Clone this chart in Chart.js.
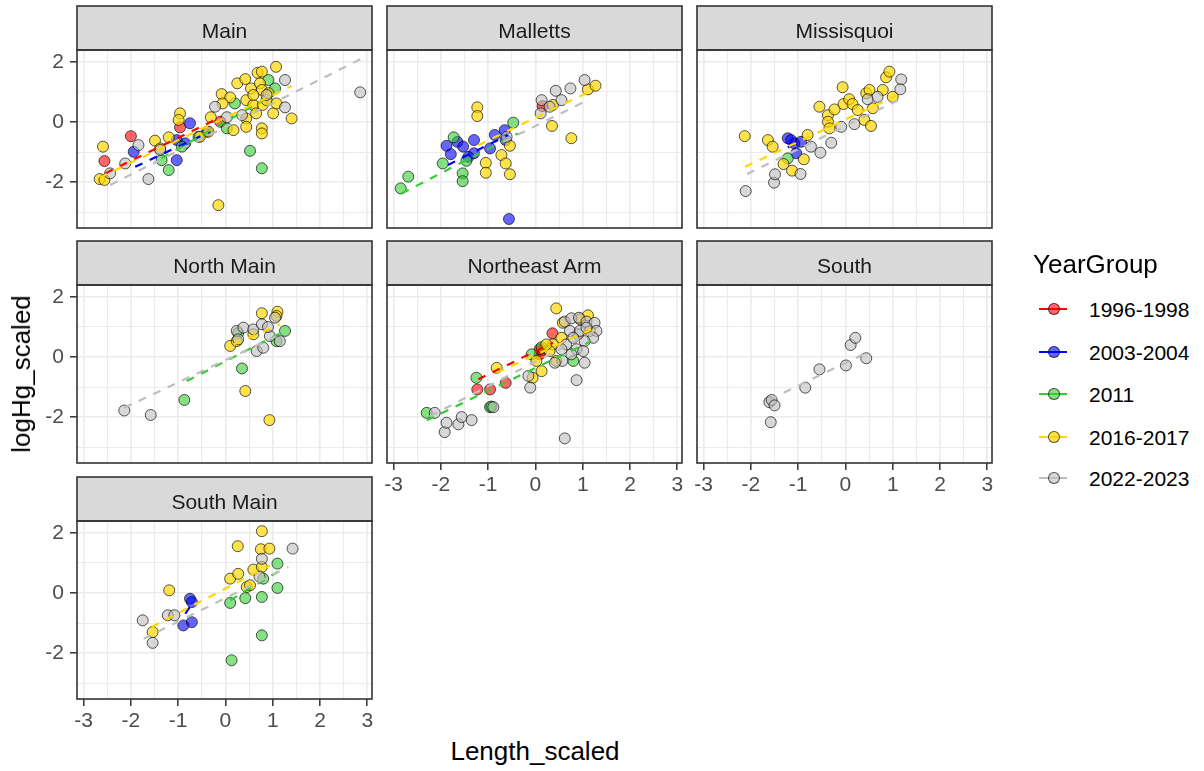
<!DOCTYPE html>
<html>
<head>
<meta charset="utf-8">
<script src="https://cdn.jsdelivr.net/npm/chart.js@4.4.0/dist/chart.umd.min.js"></script>
<style>
  body { margin: 0; background: #fff; font-family: 'Liberation Sans', Arial, sans-serif; }
  #wrap { position: relative; width: 1204px; height: 771px; overflow: hidden; }
  #wrap canvas { position: absolute; }
  .txt { position: absolute; white-space: nowrap; line-height: 1; transform: translate(-50%, -50%); }
  .key-line { position: absolute; height: 2px; width: 28px; }
  .key-dot { position: absolute; width: 12px; height: 12px; border-radius: 50%; box-sizing: border-box; border: 1px solid rgba(0,0,0,0.65); }
</style>
</head>
<body>
<div id="wrap"></div>
<script>
const yearGroups = ['1996-1998', '2003-2004', '2011', '2016-2017', '2022-2023'];
const panelNames = ['Main', 'Malletts', 'Missisquoi', 'North Main', 'Northeast Arm', 'South', 'South Main'];
const xTickLabels = [-3, -2, -1, 0, 1, 2, 3];
const xGrid = [-3, -2.5, -2, -1.5, -1, -0.5, 0, 0.5, 1, 1.5, 2, 2.5, 3];
const yTickLabels = [-2, 0, 2];
const yGrid = [-3, -2, -1, 0, 1, 2];

// points [Length_scaled, logHg_scaled], per panel and year group
const mainPts = {
  '1996-1998': [[-2.0,-0.47],[-2.56,-1.3],[-0.96,-0.18],[-0.11,0.01]],
  '2003-2004': [[-1.94,-0.99],[-0.75,-0.04],[-1.03,-1.27],[-1.03,-0.6],[-0.85,-0.71],[-0.39,-0.32]],
  '2011': [[-1.35,-1.27],[-1.2,-1.6],[0.52,-0.96],[0.77,-1.54],[0.91,1.4],[1.05,1.12],[0.2,0.62],[0.03,-0.21],[-0.57,-0.49],[-0.92,-0.82]],
  '2016-2017': [[-2.59,-0.82],[-2.66,-1.9],[-2.56,-1.93],[-1.49,-0.62],[-1.2,-0.51],[-0.96,0.29],[-0.99,0.07],[-0.54,-0.49],
    [-0.31,0.16],[-0.08,0.93],[0.1,0.82],[-0.06,0.62],[0.17,-0.27],[0.25,1.29],[0.42,1.43],[0.44,0.73],[0.44,0.12],[0.44,-0.16],
    [0.54,1.12],[0.59,0.57],[0.65,0.29],[0.68,1.64],[0.77,1.68],[0.73,1.29],[0.77,1.07],[0.77,-0.21],[0.77,-0.38],[0.79,0.57],
    [0.87,0.73],[1.01,0.29],[1.07,1.84],[1.08,0.62],[0.91,0.96],[1.4,0.12],[-0.15,-2.77],[-0.36,-0.32],[-1.38,-0.88],[0.59,0.9]],
  '2022-2023': [[-2.44,-1.71],[-2.12,-1.38],[-1.84,-0.77],[-1.63,-1.9],[-1.38,-0.93],[-0.22,0.51],[0.03,0.16],[0.35,0.23],
    [1.26,1.4],[1.26,0.49],[2.85,0.99],[0.87,0.9]]
};
const mallettsPts = {
  '1996-1998': [[0.15,0.53]],
  '2003-2004': [[-1.88,-0.79],[-1.79,-1.07],[-1.65,-0.66],[-1.53,-0.82],[-1.3,-0.6],[-1.3,-1.04],[-0.96,-0.88],[-0.86,-0.43],
    [-0.65,-0.27],[-0.63,-0.6],[-0.56,-3.23],[-1.42,-1.16]],
  '2011': [[-2.85,-2.21],[-2.69,-1.82],[-1.96,-1.38],[-1.54,-1.71],[-1.54,-1.97],[-1.46,-1.29],[-1.73,-0.51],[-0.47,-0.02]],
  '2016-2017': [[-1.23,0.49],[-1.23,0.2],[-1.05,-1.36],[-1.05,-1.69],[-0.72,-1.1],[-0.63,-1.38],[-0.54,-1.74],[-0.54,-0.79],
    [0.35,-0.13],[0.76,-0.54],[0.37,0.57],[1.11,1.09],[1.27,1.21]],
  '2022-2023': [[0.13,0.73],[0.43,1.04],[0.55,0.73],[0.74,1.12],[1.04,1.4],[0.11,0.29],[-0.61,-0.49],[0.3,0.51]]
};
const missisquoiPts = {
  '2003-2004': [[-1.22,-0.54],[-1.08,-0.71],[-1.04,-1.04],[-0.94,-0.66],[-1.15,-0.6]],
  '2011': [[-1.22,-1.21]],
  '2016-2017': [[-2.13,-0.47],[-1.64,-0.6],[-1.54,-0.82],[-1.31,-1.4],[-1.13,-1.62],[-0.88,-1.24],[-0.8,-0.43],[-0.55,0.51],
    [-0.37,0.23],[-0.37,0.01],[-0.34,-0.21],[-0.23,0.42],[-0.06,1.16],[-0.04,0.6],[0.08,0.76],[0.15,0.6],[0.26,0.4],[0.44,0.96],
    [0.51,1.07],[0.58,0.46],[0.4,0.07],[0.54,-0.13],[0.79,1.07],[0.86,1.49],[0.93,1.68],[1.0,0.84]],
  '2022-2023': [[-2.11,-2.3],[-1.51,-2.02],[-1.49,-1.74],[-0.95,-1.73],[-0.73,-0.82],[-0.53,-1.02],[-0.3,-0.69],[-0.09,-0.16],
    [0.19,-0.07],[0.47,0.76],[0.68,0.84],[1.18,1.42],[1.16,1.09]]
};
const northMainPts = {
  '2011': [[-0.87,-1.43],[0.35,-0.38],[1.26,0.87],[1.08,0.53],[0.27,0.8]],
  '2016-2017': [[0.1,0.37],[0.42,-1.13],[0.93,-2.1],[0.77,1.46],[1.1,1.51],[1.08,1.37],[0.59,0.76],[0.24,0.53]],
  '2022-2023': [[-2.14,-1.78],[-1.58,-1.93],[0.24,0.87],[0.38,0.98],[0.66,0.2],[0.8,0.31],[0.94,0.7],[1.05,1.31],[1.15,0.53],
    [0.59,0.92],[0.77,1.09],[0.27,0.59],[0.9,1.0]]
};
const northeastArmPts = {
  '1996-1998': [[-1.23,-1.08],[-0.96,-1.08],[-0.63,-0.86],[0.36,0.79],[0.13,0.22],[0.09,0.09],[0.09,0.26]],
  '2011': [[-2.3,-1.86],[-1.25,-0.69],[-0.96,-1.67],[-0.93,-1.65],[-0.08,0.09],[0.13,0.33],[0.8,-0.13]],
  '2016-2017': [[-0.82,-0.36],[-0.06,-0.69],[0.13,-0.47],[0.44,1.62],[0.37,0.42],[0.44,-0.13],[0.58,1.14],[1.11,1.39],
    [0.94,1.26],[0.3,0.2],[0.55,0.64],[0.02,-0.13],[0.23,0.42],[1.15,0.87]],
  '2022-2023': [[-2.13,-1.86],[-1.92,-2.5],[-1.88,-2.19],[-1.63,-2.24],[-1.56,-2.0],[-1.35,-2.1],[-0.89,-1.67],[-0.11,-1.02],
    [-0.15,-0.63],[0.62,-2.71],[0.87,-0.77],[1.04,-0.19],[0.62,1.18],[0.76,1.29],[0.92,1.31],[1.08,1.18],[1.25,1.14],[1.29,0.87],
    [1.22,0.64],[1.04,0.53],[0.9,0.76],[0.73,0.87],[0.65,0.42],[0.87,0.26],[1.01,0.2],[0.76,0.09],[0.57,-0.13],[0.41,-0.19],
    [0.94,0.87],[0.55,0.26],[1.08,0.98],[0.8,0.64]]
};
const southPts = {
  '2022-2023': [[-1.61,-1.5],[-1.56,-1.43],[-1.5,-1.61],[-1.58,-2.17],[-0.85,-1.02],[-0.55,-0.41],[0.01,-0.28],[0.11,0.4],
    [0.21,0.64],[0.44,-0.04]]
};
const southMainPts = {
  '2003-2004': [[-0.89,-1.08],[-0.71,-0.97],[-0.75,-0.19],[-0.71,-0.3]],
  '2011': [[0.1,-0.33],[0.13,-2.24],[0.42,-0.17],[0.77,-0.13],[0.77,-1.41],[0.8,0.48],[1.1,0.98],[1.1,0.17]],
  '2016-2017': [[-1.19,0.09],[-1.54,-1.3],[0.1,0.48],[0.26,1.56],[0.27,0.64],[0.45,0.2],[0.59,0.78],[0.77,2.06],[0.75,1.46],
    [0.93,1.48],[0.77,0.87],[0.52,0.26]],
  '2022-2023': [[-1.75,-0.91],[-1.54,-1.66],[-1.22,-0.74],[-1.08,-0.74],[0.77,1.14],[1.42,1.48],[0.72,0.55]]
};

// dashed lm lines, [x1, y1, x2, y2]
const mainFits = {
  '1996-1998': [-2.54,-1.71,-0.08,0.18], '2003-2004': [-1.91,-1.49,-0.32,-0.32], '2011': [-1.35,-1.2,1.05,0.95],
  '2016-2017': [-2.66,-1.85,1.4,1.2], '2022-2023': [-2.44,-2.1,2.85,2.09]
};
const mallettsFits = {
  '2003-2004': [-1.85,-1.43,-0.58,-0.43], '2011': [-2.83,-2.38,-0.37,-0.38],
  '2016-2017': [-1.21,-0.77,1.22,1.07], '2022-2023': [-0.68,-0.66,1.04,0.68]
};
const missisquoiFits = {
  '2003-2004': [-1.22,-0.85,-0.94,-0.6], '2016-2017': [-2.12,-1.49,1.1,0.9], '2022-2023': [-2.08,-1.73,1.16,0.76]
};
const northMainFits = {
  '2011': [-0.82,-0.8,1.26,0.87], '2016-2017': [0.17,0.42,1.15,1.09], '2022-2023': [-2.14,-1.69,1.23,0.81]
};
const northeastArmFits = {
  '1996-1998': [-1.21,-0.74,0.37,0.48], '2011': [-2.3,-2.11,1.18,0.53],
  '2016-2017': [-0.82,-0.52,1.18,0.92], '2022-2023': [-2.23,-1.97,1.32,0.92]
};
const southFits = { '2022-2023': [-1.61,-1.42,0.44,0.14] };
const southMainFits = {
  '2003-2004': [-0.85,-0.69,-0.68,-0.3], '2011': [0.1,-0.24,1.1,0.7],
  '2016-2017': [-1.56,-1.13,0.94,0.92], '2022-2023': [-1.73,-1.52,1.33,0.87]
};

const panelPts = [mainPts, mallettsPts, missisquoiPts, northMainPts, northeastArmPts, southPts, southMainPts];
const panelFits = [mainFits, mallettsFits, missisquoiFits, northMainFits, northeastArmFits, southFits, southMainFits];

// look
const fillCol = ['rgba(255,0,0,0.6)', 'rgba(0,0,255,0.6)', 'rgba(50,205,50,0.6)', 'rgba(255,215,0,0.7)', 'rgba(190,190,190,0.6)'];
const lineCol = ['#FF0000', '#0000FF', '#32CD32', '#FFD700', '#BEBEBE'];
const FONT = "'Liberation Sans', Arial, sans-serif";
const COL_X = [77, 387, 697], ROW_Y = [50, 285, 521];
const PW = 295, PH = 178, STRIP_H = 44;

const wrap = document.getElementById('wrap');

function addText(str, x, y, size, color, extra) {
  const d = document.createElement('div');
  d.className = 'txt';
  d.textContent = str;
  d.style.left = x + 'px';
  d.style.top = y + 'px';
  d.style.fontSize = size + 'px';
  d.style.color = color;
  if (extra) d.style.transform = extra;
  wrap.appendChild(d);
  return d;
}

// strip background + panel border, like theme_bw
const framePlugin = {
  id: 'frame',
  beforeDraw(chart) {
    const { ctx, chartArea: a } = chart;
    ctx.save();
    ctx.fillStyle = '#D9D9D9';
    ctx.fillRect(a.left, a.top - STRIP_H, a.right - a.left, STRIP_H);
    ctx.restore();
  },
  afterDraw(chart) {
    const { ctx, chartArea: a } = chart;
    ctx.save();
    ctx.strokeStyle = '#333333';
    ctx.lineWidth = 1.6;
    ctx.strokeRect(a.left, a.top - STRIP_H, a.right - a.left, STRIP_H);
    ctx.strokeRect(a.left, a.top, a.right - a.left, a.bottom - a.top);
    ctx.restore();
  }
};

panelNames.forEach((name, i) => {
  const row = Math.floor(i / 3), col = i % 3;
  const left = COL_X[col], top = ROW_Y[row];
  const showY = col === 0;
  const showX = i >= 4;

  const canvas = document.createElement('canvas');
  canvas.width = PW + 70;
  canvas.height = PH + 90;
  canvas.style.left = (left - 50) + 'px';
  canvas.style.top = (top - 50) + 'px';
  wrap.appendChild(canvas);

  const datasets = [];
  // fitted lines on top, later groups above earlier ones
  for (let g = yearGroups.length - 1; g >= 0; g--) {
    const f = panelFits[i][yearGroups[g]];
    if (!f) continue;
    datasets.push({
      data: [{ x: f[0], y: f[1] }, { x: f[2], y: f[3] }],
      showLine: true,
      borderColor: lineCol[g],
      borderWidth: 2.2,
      borderDash: [8, 8],
      pointRadius: 0
    });
  }
  for (let g = yearGroups.length - 1; g >= 0; g--) {
    const pts = panelPts[i][yearGroups[g]];
    if (!pts) continue;
    datasets.push({
      data: pts.map(p => ({ x: p[0], y: p[1] })),
      backgroundColor: fillCol[g],
      borderColor: 'rgba(0,0,0,0.65)',
      borderWidth: 1,
      pointRadius: 5.5
    });
  }

  new Chart(canvas, {
    type: 'scatter',
    data: { datasets },
    options: {
      responsive: false,
      animation: false,
      devicePixelRatio: 1,
      layout: { padding: { top: 50, right: 20, left: 0, bottom: 0 } },
      plugins: { legend: { display: false }, tooltip: { enabled: false } },
      scales: {
        x: {
          type: 'linear',
          min: -3.14,
          max: 3.10,
          afterBuildTicks: ax => { ax.ticks = xGrid.map(v => ({ value: v })); },
          afterFit: ax => { ax.height = 40; },
          border: { display: false },
          grid: {
            color: '#EBEBEB',
            lineWidth: c => (Number.isInteger(c.tick.value) ? 1.6 : 1.1),
            drawTicks: true,
            tickLength: 7,
            tickWidth: 1.5,
            tickColor: c => (showX && xTickLabels.includes(c.tick.value) ? '#333333' : 'rgba(0,0,0,0)')
          },
          ticks: {
            display: showX,
            autoSkip: false,
            maxRotation: 0,
            padding: 3,
            color: '#4D4D4D',
            font: { family: FONT, size: 21 },
            callback: v => (xTickLabels.includes(v) ? String(v) : '')
          }
        },
        y: {
          type: 'linear',
          min: -3.53,
          max: 2.4,
          afterBuildTicks: ax => { ax.ticks = yGrid.map(v => ({ value: v })); },
          afterFit: ax => { ax.width = 50; },
          border: { display: false },
          grid: {
            color: '#EBEBEB',
            lineWidth: c => (yTickLabels.includes(c.tick.value) ? 1.6 : 1.1),
            drawTicks: true,
            tickLength: 7,
            tickWidth: 1.5,
            tickColor: c => (showY && yTickLabels.includes(c.tick.value) ? '#333333' : 'rgba(0,0,0,0)')
          },
          ticks: {
            display: showY,
            autoSkip: false,
            padding: 6,
            color: '#4D4D4D',
            font: { family: FONT, size: 21 },
            callback: v => (yTickLabels.includes(v) ? String(v) : '')
          }
        }
      }
    },
    plugins: [framePlugin]
  });

  addText(name, left + PW / 2, top - STRIP_H / 2 + 1.5, 21, '#1A1A1A');
});

// axis titles
addText('Length_scaled', 535, 751, 26, '#000');
addText('logHg_scaled', 21, 374, 26, '#000', 'translate(-50%, -50%) rotate(-90deg)');

// legend
addText('YearGroup', 1033, 264, 26, '#000', 'translate(0, -50%)');
const keyY = [309, 352, 394, 437, 478];
yearGroups.forEach((g, k) => {
  const ln = document.createElement('div');
  ln.className = 'key-line';
  ln.style.left = '1039px';
  ln.style.top = (keyY[k] - 1) + 'px';
  ln.style.background = lineCol[k];
  wrap.appendChild(ln);
  const dot = document.createElement('div');
  dot.className = 'key-dot';
  dot.style.left = (1054 - 6) + 'px';
  dot.style.top = (keyY[k] - 6) + 'px';
  dot.style.background = fillCol[k];
  wrap.appendChild(dot);
  addText(g, 1089, keyY[k], 21, '#000', 'translate(0, -50%)');
});
</script>
</body>
</html>
